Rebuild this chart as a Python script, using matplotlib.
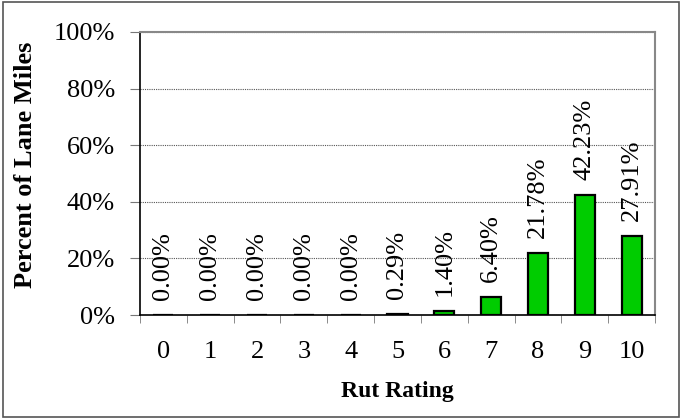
import numpy as np
import matplotlib.pyplot as plt
from matplotlib.patches import Rectangle

ratings = ["0", "1", "2", "3", "4", "5", "6", "7", "8", "9", "10"]
percents = [0.00, 0.00, 0.00, 0.00, 0.00, 0.29, 1.40, 6.40, 21.78, 42.23, 27.91]
y_ticks = [0, 20, 40, 60, 80, 100]

plt.rcParams['font.family'] = ['Liberation Serif', 'DejaVu Serif']

fig = plt.figure(figsize=(6.8, 4.18), dpi=100)
ax = fig.add_axes([140 / 680, 1 - 315 / 418, 515 / 680, 283 / 418])

# outer chart border
fig.patches.append(Rectangle((3 / 680, 1 / 418), 676 / 680, 415 / 418,
                             transform=fig.transFigure, fill=False,
                             edgecolor='#555555', linewidth=1.2))

x = np.arange(len(ratings))
ax.bar(x, percents, width=0.43, color='#00CC00', edgecolor='black',
       linewidth=1.6, zorder=3)

for xi, v in zip(x, percents):
    ax.annotate(f"{v:.2f}%", (xi, v), xytext=(0, 11), textcoords='offset points',
                rotation=90, ha='center', va='bottom', fontsize=19)

ax.set_xlim(-0.5, len(ratings) - 0.5)
ax.set_ylim(0, 100)
ax.set_yticks(y_ticks)
ax.set_yticklabels([f"{t}%" for t in y_ticks], fontsize=19)
ax.yaxis.grid(True, linestyle=(0, (1, 1)), color='#555555', linewidth=0.8)
ax.set_axisbelow(True)

ax.set_xticks(x)
ax.set_xticklabels(ratings, fontsize=19)
ax.tick_params(axis='x', which='major', length=0, pad=19)
ax.set_xticks(np.arange(-0.5, len(ratings), 1.0), minor=True)
ax.tick_params(axis='x', which='minor', length=6, color='#777777', direction='out')
ax.tick_params(axis='y', length=7, color='#777777', direction='out', pad=11)

for side in ['top', 'right']:
    ax.spines[side].set_color('#888888')
    ax.spines[side].set_linewidth(1.5)
for side in ['left', 'bottom']:
    ax.spines[side].set_color('black')
    ax.spines[side].set_linewidth(1.2)

ax.set_ylabel("Percent of Lane Miles", fontsize=19, fontweight='bold', va='center')
ax.yaxis.set_label_coords((25 - 140) / 515, (315 - 165) / 283)
ax.set_xlabel("Rut Rating", fontsize=17, fontweight='bold', va='center')
ax.xaxis.set_label_coords(0.5, (315 - 391) / 283)

fig.savefig("out.png", dpi=100)
